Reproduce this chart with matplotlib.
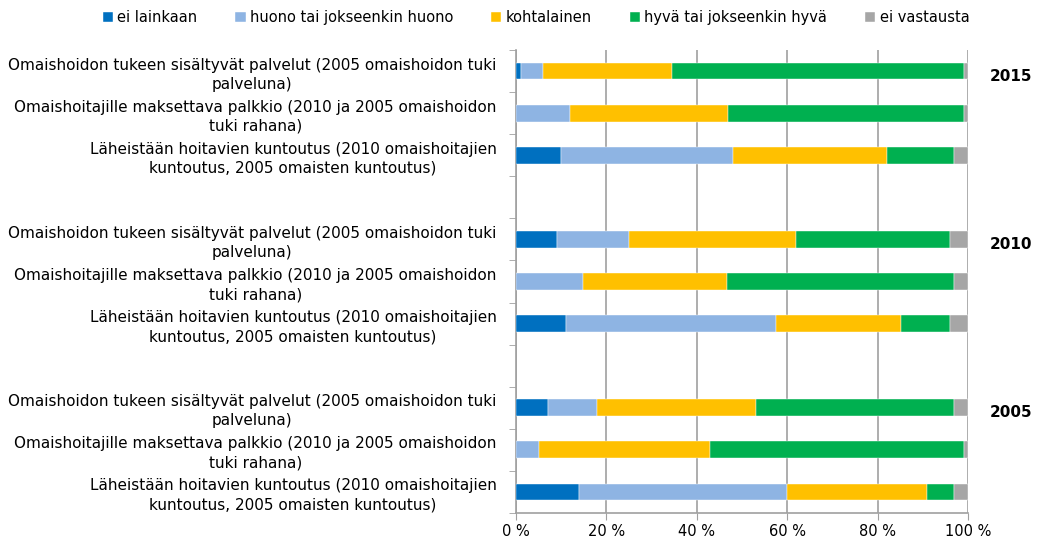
import matplotlib.pyplot as plt
import numpy as np

# categories (top to bottom within each year)
row_labels = [
    "Omaishoidon tukeen sisältyvät palvelut (2005 omaishoidon tuki\npalveluna)",
    "Omaishoitajille maksettava palkkio (2010 ja 2005 omaishoidon\ntuki rahana)",
    "Läheistään hoitavien kuntoutus (2010 omaishoitajien\nkuntoutus, 2005 omaisten kuntoutus)",
]
years = ["2015", "2010", "2005"]

series_names = ["ei lainkaan", "huono tai jokseenkin huono", "kohtalainen",
                "hyvä tai jokseenkin hyvä", "ei vastausta"]
colors = ["#0070C0", "#8EB4E3", "#FFC000", "#00B050", "#A6A6A6"]

# percentages, rows: 2015 (3 rows), 2010 (3 rows), 2005 (3 rows)
ei_lainkaan = [1, 0, 10, 9, 0, 11, 7, 0, 14]
huono = [5, 12, 38, 16, 14.8, 46.5, 11, 5, 46]
kohtalainen = [28.4, 35, 34, 37, 31.8, 27.7, 35, 38, 31]
hyva = [64.6, 52, 15, 34, 50.4, 10.9, 44, 56, 6]
ei_vastausta = [1, 1, 3, 4, 3, 3.9, 3, 1, 3]

data = [ei_lainkaan, huono, kohtalainen, hyva, ei_vastausta]

# slot positions, one empty slot between the year groups
pos = [0, 1, 2, 4, 5, 6, 8, 9, 10]

fig = plt.figure(figsize=(10.41, 5.45), dpi=100)
ax = fig.add_axes([0.4957, 0.0587, 0.4342, 0.8495])

left = np.zeros(len(pos))
for vals, name, col in zip(data, series_names, colors):
    vals = np.array(vals, dtype=float)
    ax.barh(pos, vals, left=left, height=0.4, color=col, label=name,
            edgecolor="white", linewidth=0.3, zorder=3)
    left += vals

ax.set_xlim(0, 100)
ax.set_ylim(10.5, -0.5)

ax.set_xticks([0, 20, 40, 60, 80, 100])
ax.set_xticklabels(["0 %", "20 %", "40 %", "60 %", "80 %", "100 %"], fontsize=10.5)
ax.xaxis.grid(True, color="#A0A0A0", linewidth=1.2, zorder=0)
ax.tick_params(axis="x", direction="out", length=5, color="#A0A0A0", pad=3)

ax.set_yticks(pos)
ax.set_yticklabels(row_labels * 3, fontsize=11, multialignment="center",
                   linespacing=1.35)
ax.tick_params(axis="y", length=0, pad=14)
ax.set_yticks(np.arange(-0.5, 11, 1), minor=True)
ax.tick_params(axis="y", which="minor", direction="out", length=5, color="#A0A0A0")

for s in ["top", "right"]:
    ax.spines[s].set_visible(False)
for s in ["left", "bottom"]:
    ax.spines[s].set_color("#A0A0A0")
    ax.spines[s].set_linewidth(1.2)

for y, yr in zip([1, 5, 9], years):
    ax.text(1.095, y - 0.88, yr, transform=ax.get_yaxis_transform(), ha="center",
            va="center", fontsize=11, fontweight="bold")

fig.legend(loc="upper center", bbox_to_anchor=(0.515, 1.005), ncol=5, frameon=False,
           fontsize=10.5, handlelength=0.7, handleheight=0.7, handletextpad=0.3,
           columnspacing=2.6)

fig.savefig("out.png", dpi=100)
